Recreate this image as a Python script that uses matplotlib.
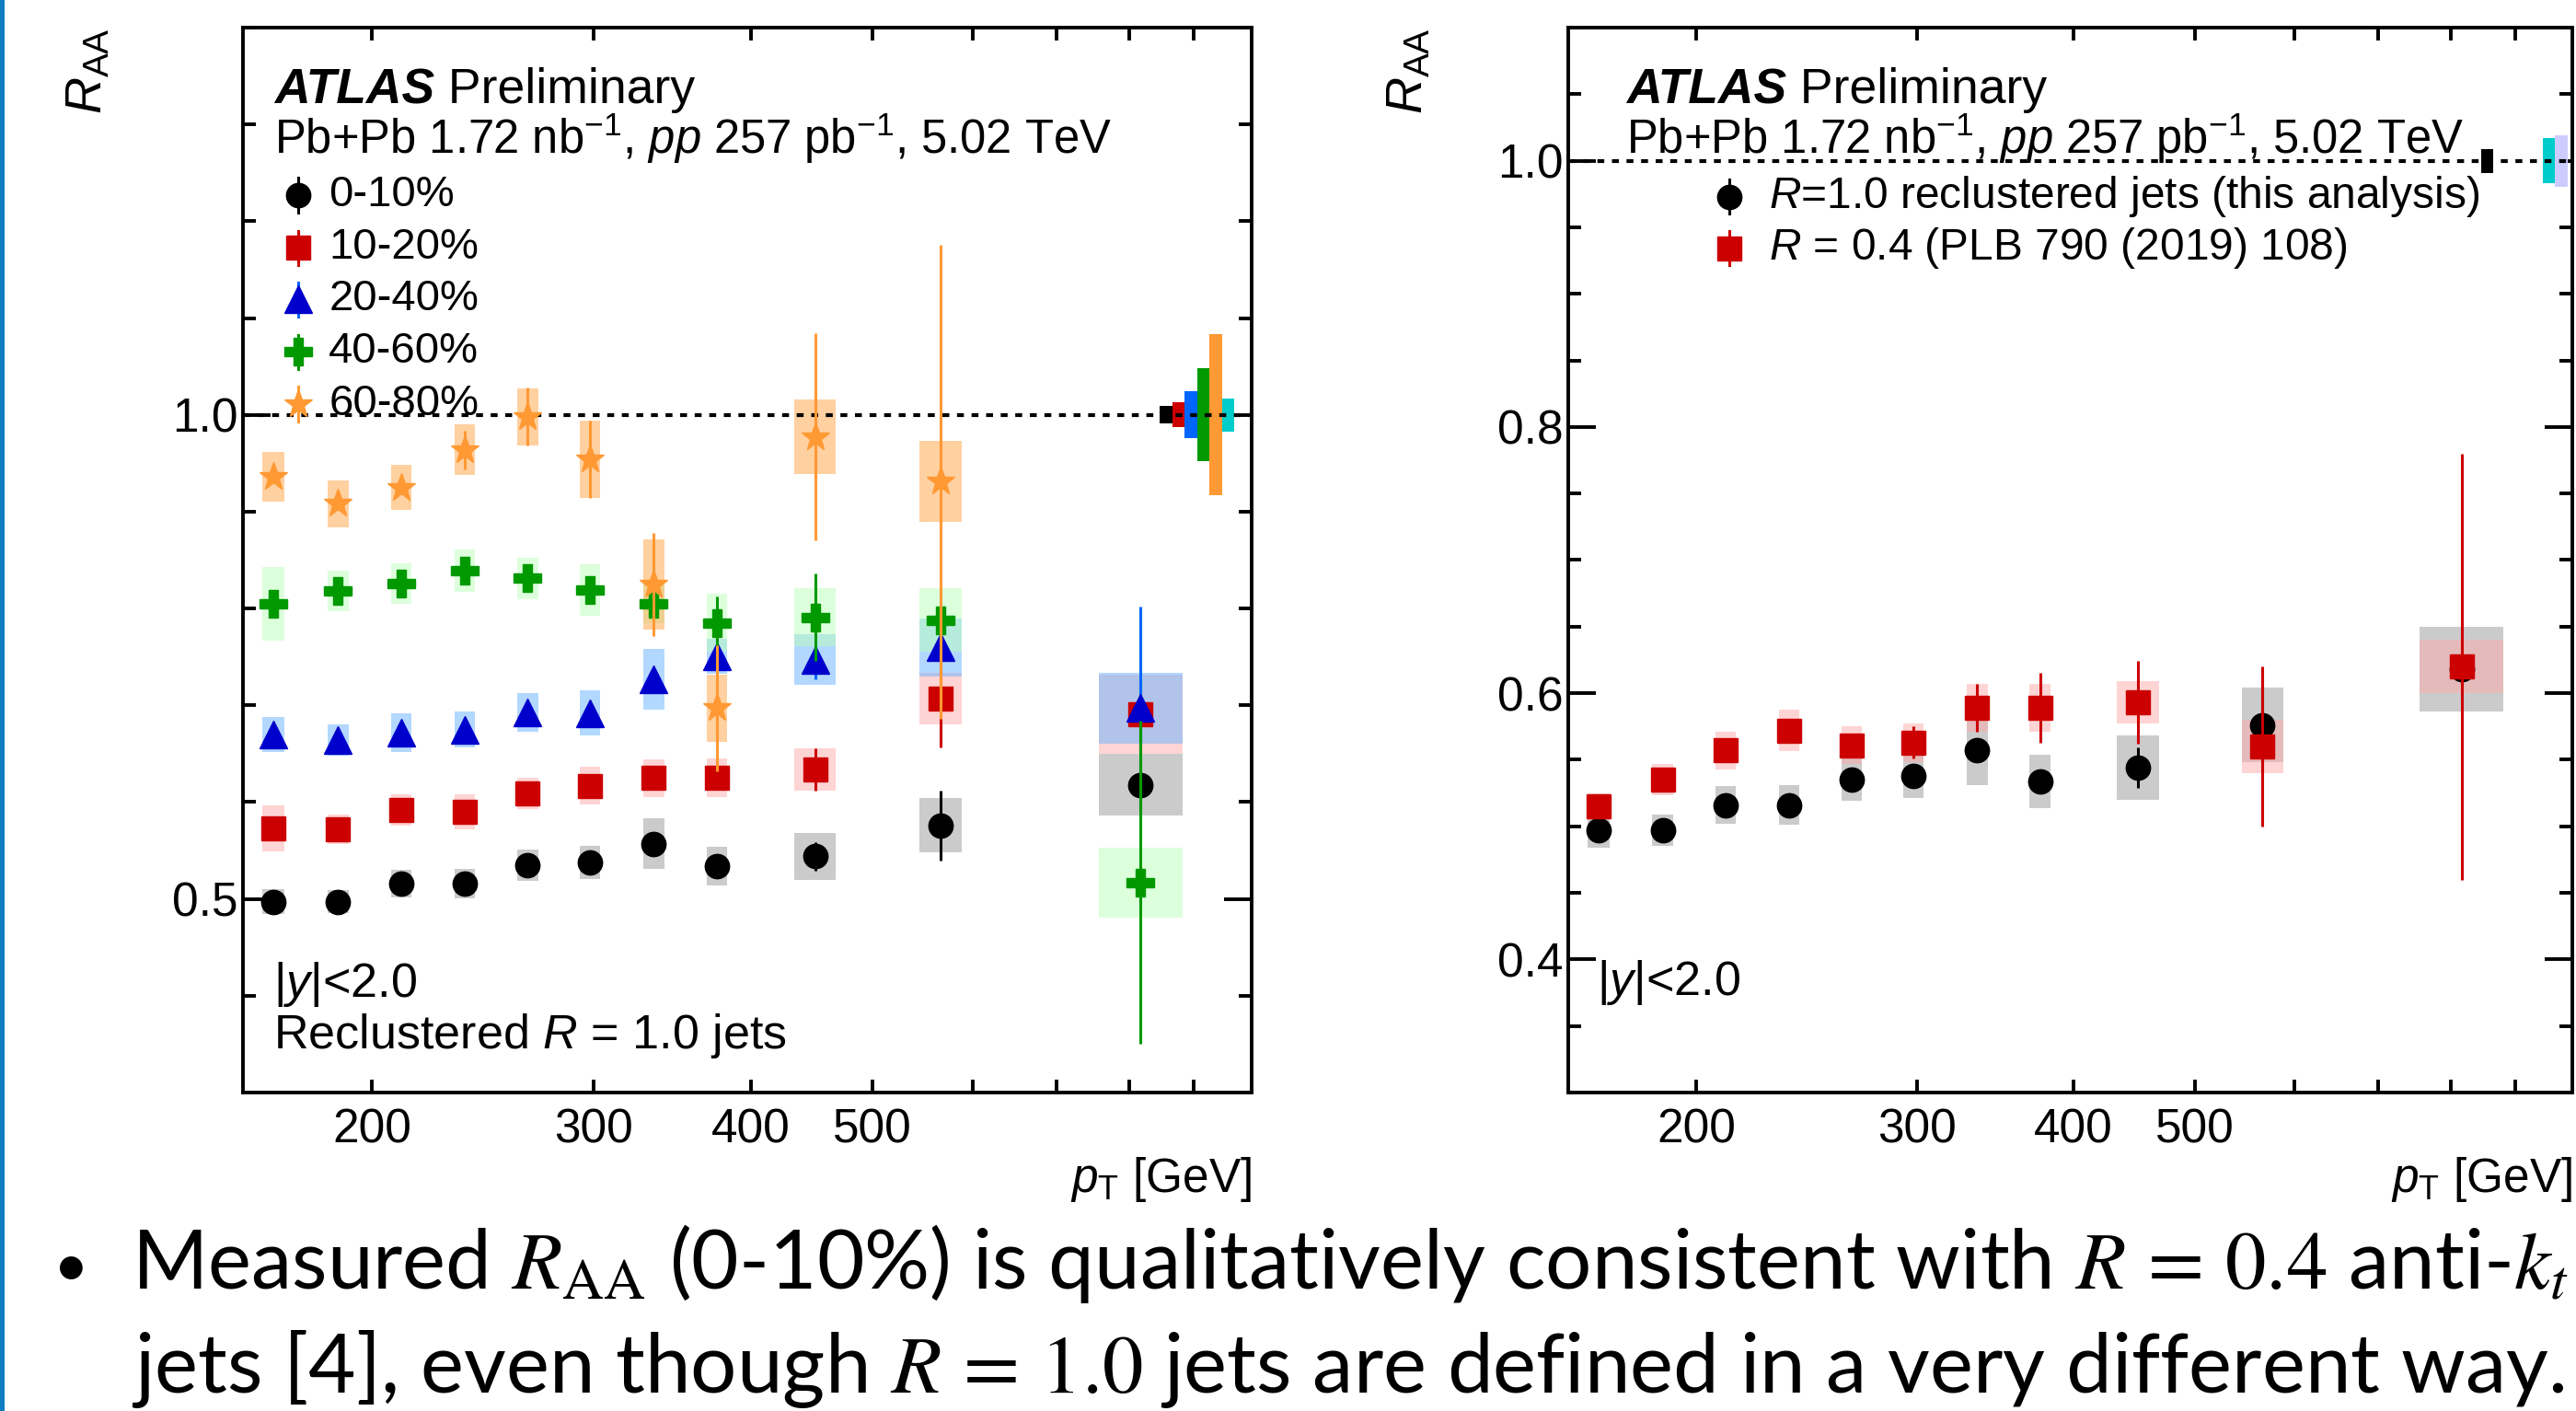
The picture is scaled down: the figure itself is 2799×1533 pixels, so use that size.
import numpy as np
import matplotlib.pyplot as plt
from matplotlib.ticker import FixedLocator, FuncFormatter, MultipleLocator, NullLocator
from matplotlib.transforms import blended_transform_factory
from matplotlib.patches import Rectangle

plt.rcParams['font.family'] = ['Liberation Sans', 'DejaVu Sans']
plt.rcParams['mathtext.fontset'] = 'custom'
plt.rcParams['mathtext.rm'] = 'Liberation Sans'
plt.rcParams['mathtext.it'] = 'Liberation Sans:italic'
plt.rcParams['mathtext.bf'] = 'Liberation Sans:bold'

# pT binning and point positions [GeV]
bin_edges = [158, 178, 200, 224, 251, 282, 316, 355, 398, 501, 631, 1000]
pt = [167, 188, 211, 237, 266, 298, 335, 376, 450, 566, 816]
xtick_vals = [200, 300, 400, 500, 600, 700, 800, 900]
xtick_labeled = [200, 300, 400, 500]

# left panel: R=1.0 reclustered jets, centrality bins
cent_labels = ['0-10%', '10-20%', '20-40%', '40-60%', '60-80%']
raa_0_10 = [0.497, 0.497, 0.516, 0.516, 0.535, 0.538, 0.557, 0.534, 0.544, 0.576, 0.618]
stat_0_10 = [0.004, 0.004, 0.004, 0.004, 0.005, 0.005, 0.006, 0.008, 0.015, 0.036, 0.012]
sys_0_10 = [0.013, 0.012, 0.014, 0.015, 0.016, 0.017, 0.026, 0.020, 0.024, 0.028, 0.032]

raa_10_20 = [0.573, 0.572, 0.592, 0.590, 0.609, 0.617, 0.625, 0.625, 0.634, 0.707, 0.691]
stat_10_20 = [0.004, 0.004, 0.004, 0.004, 0.005, 0.005, 0.006, 0.008, 0.022, 0.050, 0.030]
sys_10_20 = [0.024, 0.0155, 0.016, 0.0185, 0.016, 0.0195, 0.0195, 0.020, 0.022, 0.027, 0.041]

raa_20_40 = [0.670, 0.664, 0.672, 0.675, 0.693, 0.692, 0.727, 0.751, 0.747, 0.760, 0.697]
stat_20_40 = [0.004, 0.004, 0.004, 0.004, 0.005, 0.005, 0.006, 0.010, 0.020, 0.020, 0.105]
sys_20_40 = [0.018, 0.016, 0.020, 0.0185, 0.020, 0.0235, 0.0315, 0.018, 0.026, 0.030, 0.037]

raa_40_60 = [0.805, 0.818, 0.826, 0.839, 0.831, 0.819, 0.805, 0.785, 0.791, 0.788, 0.517]
stat_40_60 = [0.004, 0.004, 0.005, 0.005, 0.006, 0.007, 0.010, 0.027, 0.045, 0.015, 0.167]
sys_40_60 = [0.038, 0.021, 0.021, 0.0215, 0.021, 0.0265, 0.020, 0.030, 0.030, 0.033, 0.036]

raa_60_80 = [0.936, 0.908, 0.925, 0.964, 0.998, 0.954, 0.825, 0.697, 0.977, 0.931]
stat_60_80 = [0.006, 0.006, 0.007, 0.020, 0.030, 0.040, 0.053, 0.065, 0.107, 0.245]
sys_60_80 = [0.026, 0.024, 0.0235, 0.0265, 0.0295, 0.040, 0.0465, 0.035, 0.0385, 0.042]

# right panel: R=0.4 reference (PLB 790 (2019) 108), 0-10%
raa_r04 = [0.515, 0.535, 0.557, 0.572, 0.561, 0.563, 0.589, 0.589, 0.593, 0.560, 0.620]
stat_r04 = [0.004, 0.004, 0.004, 0.004, 0.005, 0.012, 0.018, 0.026, 0.031, 0.060, 0.160]
sys_r04 = [0.010, 0.012, 0.014, 0.0155, 0.014, 0.0145, 0.018, 0.018, 0.016, 0.020, 0.020]

# normalisation uncertainties at unity
norm_left = [0.009, 0.013, 0.024, 0.048, 0.083, 0.017]
norm_left_colors = ['#000000', '#cc0000', '#0066ff', '#009900', '#ff9933', '#00cccc']
norm_right = [0.009, 0.0167, 0.0194]
norm_right_colors = ['#000000', '#00cccc', '#ccccff']
norm_right_slots = [0, 5, 6]

# style per series: marker, size, marker colour, error colour, box colour
styles = {
    '0-10%': ('o', 19, '#000000', '#000000', '#999999'),
    '10-20%': ('s', 19, '#cc0000', '#cc0000', '#ffaaaa'),
    '20-40%': ('^', 22, '#0000cc', '#0066ff', '#66b3ff'),
    '40-60%': ('P', 22, '#009900', '#009900', '#bbffbb'),
    '60-80%': ('*', 23, '#ff9933', '#ff9933', '#ffa343'),
}


def draw_boxes(ax, y, sys, face):
    for i in range(len(y)):
        w = (np.log10(bin_edges[i + 1]) - np.log10(bin_edges[i])) / 3
        x0 = pt[i] * 10 ** (-w / 2)
        x1 = pt[i] * 10 ** (w / 2)
        ax.fill_between([x0, x1], y[i] - sys[i], y[i] + sys[i],
                        color=face, alpha=0.5, lw=0, zorder=2)


def draw_points(ax, y, stat, key, z):
    m, ms, mc, ec, _ = styles[key]
    ax.errorbar(pt[:len(y)], y, yerr=stat, fmt=m, ms=ms, color=mc, mec=mc,
                ecolor=ec, elinewidth=2.2, capsize=0, zorder=z)


def draw_norm(ax, vals, colors, slots):
    tr = blended_transform_factory(ax.transAxes, ax.transData)
    for v, c, s in zip(vals, colors, slots):
        ax.add_patch(Rectangle((0.909 + s * 0.0123, 1 - v), 0.0123, 2 * v,
                               transform=tr, color=c, lw=0, zorder=2))


def style_axes(ax, ymaj, ymin, ylim):
    ax.set_xscale('log')
    ax.set_xlim(158, 1000)
    ax.set_ylim(*ylim)
    ax.xaxis.set_major_locator(FixedLocator(xtick_vals))
    ax.xaxis.set_minor_locator(NullLocator())
    ax.xaxis.set_major_formatter(FuncFormatter(
        lambda v, p: '%d' % round(v) if round(v) in xtick_labeled else ''))
    ax.yaxis.set_major_locator(MultipleLocator(ymaj))
    ax.yaxis.set_minor_locator(MultipleLocator(ymin))
    ax.yaxis.set_major_formatter(FuncFormatter(lambda v, p: '%.1f' % v))
    ax.tick_params(which='both', direction='in', top=True, right=True,
                   width=2.8, labelsize=37)
    ax.tick_params(axis='x', which='major', length=10, pad=12)
    ax.tick_params(axis='y', which='major', length=21.6, pad=4)
    ax.tick_params(axis='y', which='minor', length=10)
    for s in ax.spines.values():
        s.set_linewidth(2.8)
    ax.axhline(1.0, color='k', lw=3, ls=(0, (1.8, 2.0)), zorder=2.5)
    ax.text(1.0, -0.0933, r'$p_{\rm T}$ [GeV]', transform=ax.transAxes,
            ha='right', va='baseline', fontsize=37)


def atlas_label(ax, x):
    t = ax.text(x, 0.929, 'ATLAS', transform=ax.transAxes, fontsize=38.5,
                weight='bold', style='italic', va='baseline')
    ax.annotate(' Preliminary', xy=(1, 0.929), xycoords=(t, 'axes fraction'),
                fontsize=38.5, va='baseline')
    ax.text(x, 0.8816, r'Pb+Pb 1.72 nb$^{-1}$, $pp$ 257 pb$^{-1}$, 5.02 TeV',
            transform=ax.transAxes, fontsize=36.5, va='baseline')


def legend_marker(ax, x, y, key):
    m, ms, mc, ec, _ = styles[key]
    ax.plot([x, x], [y - 0.016, y + 0.016], color=ec, lw=2.2,
            transform=ax.transAxes, zorder=4)
    ax.plot([x], [y], marker=m, ms=ms, color=mc, ls='none',
            transform=ax.transAxes, zorder=4)


fig = plt.figure(figsize=(27.99, 15.33), dpi=100)
fig.add_artist(Rectangle((0, 0), 5 / 2799, 1, transform=fig.transFigure,
                         color='#0e7dc2', lw=0))

# ---- left panel
axl = fig.add_axes([264 / 2799, 1 - 1187 / 1533, 1096 / 2799, 1157 / 1533])
style_axes(axl, 0.5, 0.1, (0.3, 1.4))
left_sets = [(raa_0_10, stat_0_10, sys_0_10), (raa_10_20, stat_10_20, sys_10_20),
             (raa_20_40, stat_20_40, sys_20_40), (raa_40_60, stat_40_60, sys_40_60),
             (raa_60_80, stat_60_80, sys_60_80)]
for key, (y, st, sy) in zip(cent_labels, left_sets):
    draw_boxes(axl, y, sy, styles[key][4])
for k, (key, (y, st, sy)) in enumerate(zip(cent_labels, left_sets)):
    draw_points(axl, y, st, key, 3 + k)
draw_norm(axl, norm_left, norm_left_colors, range(len(norm_left)))

atlas_label(axl, 0.031)
rows = [0.8427, 0.7934, 0.745, 0.6957, 0.6465]
for key, yy in zip(cent_labels, rows):
    legend_marker(axl, 0.0547, yy, key)
    axl.text(0.085, yy, key, transform=axl.transAxes, fontsize=34,
             va='center', zorder=2)
axl.text(0.030, 0.0899, r'|$y$|<2.0', transform=axl.transAxes, fontsize=37.5,
         va='baseline')
axl.text(0.030, 0.0415, r'Reclustered $R$ = 1.0 jets', transform=axl.transAxes,
         fontsize=37.5, va='baseline')
axl.text(-0.153, 1.0, r'$R_{\rm AA}$', transform=axl.transAxes, rotation=90,
         ha='center', va='top', fontsize=40)

# ---- right panel
axr = fig.add_axes([1704 / 2799, 1 - 1187 / 1533, 1091 / 2799, 1157 / 1533])
style_axes(axr, 0.2, 0.05, (0.3, 1.1))
draw_boxes(axr, raa_0_10, sys_0_10, styles['0-10%'][4])
draw_boxes(axr, raa_r04, sys_r04, styles['10-20%'][4])
draw_points(axr, raa_0_10, stat_0_10, '0-10%', 3)
draw_points(axr, raa_r04, stat_r04, '10-20%', 4)
draw_norm(axr, norm_right, norm_right_colors, norm_right_slots)

atlas_label(axr, 0.058)
legend_marker(axr, 0.1604, 0.841, '0-10%')
legend_marker(axr, 0.1604, 0.7926, '10-20%')
axr.text(0.1998, 0.841, r'$R$=1.0 reclustered jets (this analysis)',
         transform=axr.transAxes, fontsize=34.5, va='center')
axr.text(0.1998, 0.7926, r'$R$ = 0.4 (PLB 790 (2019) 108)',
         transform=axr.transAxes, fontsize=34.5, va='center')
axr.text(0.0284, 0.0916, r'|$y$|<2.0', transform=axr.transAxes, fontsize=37.5,
         va='baseline')
axr.text(-0.158, 1.0, r'$R_{\rm AA}$', transform=axr.transAxes, rotation=90,
         ha='center', va='top', fontsize=40)

# ---- slide bullet text
fig.text(58 / 2799, 1 - 1398 / 1533, '\u2022', fontsize=48, family='Lato',
         va='baseline')
fig.text(143 / 2799, 1 - 1400 / 1533,
         r'Measured $R_{\mathrm{AA}}$ (0-10%) is qualitatively consistent with $R\,=\,0.4$ anti-$k_t$',
         fontsize=64, family='Lato', math_fontfamily='stix', va='baseline')
fig.text(143 / 2799, 1 - 1513 / 1533,
         r'jets [4], even though $R\,=\,1.0$ jets are defined in a very different way.',
         fontsize=64, family='Lato', math_fontfamily='stix', va='baseline')

fig.savefig('out.png', dpi=100)
